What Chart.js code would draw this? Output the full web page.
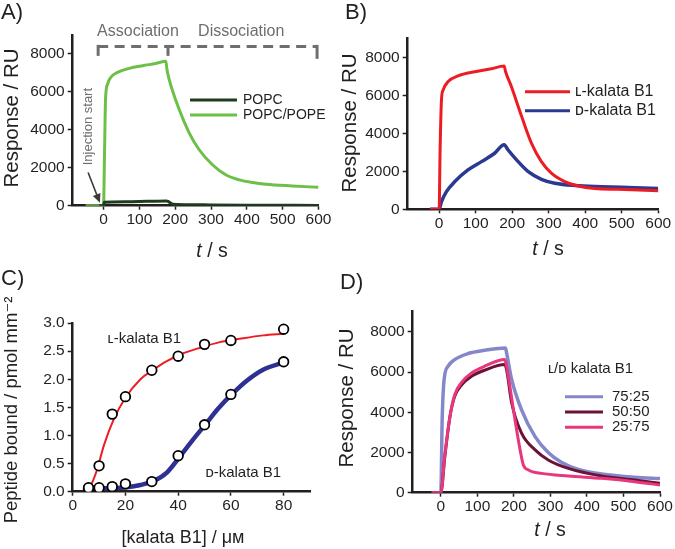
<!DOCTYPE html>
<html>
<head>
<meta charset="utf-8">
<script src="https://cdn.jsdelivr.net/npm/chart.js@4.4.1/dist/chart.umd.min.js"></script>
<style>
  body { margin: 0; background: #fff; }
  #wrap { position: relative; width: 675px; height: 549px; }
  canvas { position: absolute; }
</style>
</head>
<body>
<div id="wrap">
  <canvas id="chartA" width="337" height="270" style="left:0;top:0"></canvas>
  <canvas id="chartB" width="338" height="270" style="left:337px;top:0"></canvas>
  <canvas id="chartC" width="337" height="279" style="left:0;top:270px"></canvas>
  <canvas id="chartD" width="338" height="279" style="left:337px;top:270px"></canvas>
</div>
<script>
// tick labels
const timeTicks = [0, 100, 200, 300, 400, 500, 600];
const respTicks = [0, 2000, 4000, 6000, 8000];
const concTicks = [0, 20, 40, 60, 80];
const boundTicks = [0, 0.5, 1, 1.5, 2, 2.5, 3];

// ---- panel A: POPC vs POPC/POPE ----
const popcTime = [-12, 0, 2, 60, 120, 176, 180, 194, 250, 300, 400, 600];
const popcResp = [0, 0, 180, 210, 230, 250, 230, 75, 50, 40, 25, 15];
const popeTime = [-50, 0, 3, 5.6, 11, 20, 39, 72, 109, 146, 174, 177, 183, 211, 239, 267, 304, 341, 379, 416, 453, 527, 600];
const popeResp = [0, 0, 2950, 5600, 6400, 6760, 7030, 7240, 7380, 7500, 7610, 7200, 6670, 5080, 3840, 2950, 2160, 1630, 1360, 1220, 1130, 1040, 970];
const phaseEdges = [-15, 180, 596];
const phaseNames = ['Association', 'Dissociation'];
const phaseNameAt = [-18, 264];

// ---- panel B: L- vs D-kalata B1 ----
const lTime = [-25, 0, 2.7, 6.4, 11, 24.7, 52, 98, 143, 178, 182, 198, 226, 253, 280, 308, 344, 381, 426, 490, 600];
const lResp = [0, 0, 3120, 5750, 6280, 6720, 7020, 7240, 7400, 7540, 7240, 6450, 4880, 3470, 2510, 1890, 1460, 1230, 1100, 1050, 980];
const dTime = [-25, 0, 6.4, 20, 43, 79, 116, 152, 178, 189, 212, 244, 280, 317, 372, 445, 536, 600];
const dResp = [0, 0, 400, 930, 1460, 2070, 2510, 2950, 3400, 3120, 2600, 1980, 1580, 1370, 1250, 1190, 1140, 1100];

// ---- panel C: binding isotherms ----
const conc = [6, 10, 15, 20, 30, 40, 50, 60, 80];
const boundL = [0.07, 0.46, 1.38, 1.69, 2.16, 2.41, 2.62, 2.69, 2.89];
const boundD = [0.05, 0.07, 0.09, 0.14, 0.18, 0.64, 1.19, 1.73, 2.31];
const fitLConc = [6.2, 9.3, 11.8, 15.6, 20, 25.7, 30.7, 35.7, 40.8, 48.3, 55.8, 63.4, 72.2, 80];
const fitL = [0.02, 0.40, 0.82, 1.29, 1.67, 2.0, 2.17, 2.32, 2.44, 2.56, 2.66, 2.72, 2.78, 2.81];
const fitDConc = [4.9, 10.6, 20.6, 25.7, 30.7, 35.7, 40.4, 45.2, 50.4, 55.2, 60.3, 65.9, 72.2, 80];
const fitD = [0.06, 0.06, 0.08, 0.12, 0.19, 0.34, 0.61, 0.9, 1.2, 1.48, 1.73, 1.97, 2.17, 2.3];

// ---- panel D: L/D mixtures ----
const mixLabels = ['75:25', '50:50', '25:75'];
const mix75Time = [-25, 0, 3.7, 9, 20, 38, 75, 120, 177, 180, 194, 221, 258, 294, 331, 376, 440, 531, 600];
const mix75Resp = [0, 0, 3630, 5620, 6290, 6620, 6920, 7080, 7200, 6950, 5620, 4120, 2790, 2000, 1500, 1160, 930, 765, 700];
const mix50Time = [-25, 0, 11, 25, 38, 57, 84, 120, 175, 180, 194, 221, 258, 294, 349, 440, 531, 600];
const mix50Resp = [0, 0, 1800, 3790, 4790, 5370, 5790, 6090, 6370, 6120, 4460, 2960, 2130, 1630, 1210, 830, 630, 470];
const mix25Time = [-25, 0, 11, 25, 38, 57, 84, 120, 175, 180, 189, 203, 217, 226, 240, 276, 349, 440, 531, 600];
const mix25Resp = [0, 0, 1880, 3790, 4870, 5490, 5950, 6290, 6620, 6290, 5290, 3630, 2130, 1380, 1130, 960, 830, 715, 550, 380];

const FONT = "'Liberation Sans', 'DejaVu Sans', Arial, sans-serif";
const INK = '#231f20';

let pairs = function (xs, ys) {
    return xs.map(function (x, i) { return {x: x, y: ys[i]}; });
};

let curve = function (label, xs, ys, color, width, order) {
    return {
        label: label,
        data: pairs(xs, ys),
        borderColor: color,
        borderWidth: width,
        pointRadius: 0,
        fill: false,
        cubicInterpolationMode: 'monotone',
        order: order || 0
    };
};

let axis = function (min, max, tickValues, horizontal, digits) {
    return {
        type: 'linear',
        min: min,
        max: max,
        ticks: {
            autoSkip: false,
            maxRotation: 0,
            padding: horizontal ? 1 : 3,
            color: INK,
            font: {family: FONT, size: 15.5},
            callback: function (v) { return digits ? v.toFixed(digits) : String(v); }
        },
        grid: {drawOnChartArea: false, tickLength: horizontal ? 4 : 5, tickColor: INK, tickWidth: 1.5},
        border: {color: INK, width: 2.5},
        afterBuildTicks: function (scale) {
            scale.ticks = tickValues.map(function (v) { return {value: v}; });
        }
    };
};

// text items, either in canvas pixels or in data units (data: true)
let panelText = {
    id: 'panelText',
    afterDraw: function (chart, args, opts) {
        let ctx = chart.ctx;
        (opts.items || []).forEach(function (item) {
            let x = item.x, y = item.y;
            if (item.data) {
                x = chart.scales.x.getPixelForValue(item.x);
                y = chart.scales.y.getPixelForValue(item.y);
            }
            let parts = item.parts || [{text: item.text}];
            ctx.save();
            ctx.translate(x, y);
            if (item.rotate) ctx.rotate(item.rotate * Math.PI / 180);
            ctx.fillStyle = item.color || INK;
            ctx.textBaseline = 'middle';
            ctx.textAlign = 'left';
            let fonts = parts.map(function (p) { return (p.italic ? 'italic ' : '') + (item.size || 15) + 'px ' + FONT; });
            let total = 0;
            parts.forEach(function (p, i) { ctx.font = fonts[i]; total += ctx.measureText(p.text).width; });
            let cx = item.align === 'left' ? 0 : -total / 2;
            parts.forEach(function (p, i) {
                ctx.font = fonts[i];
                ctx.fillText(p.text, cx, 0);
                cx += ctx.measureText(p.text).width;
            });
            ctx.restore();
        });
    }
};

let lineLegend = {
    id: 'lineLegend',
    afterDraw: function (chart, args, opts) {
        if (!opts.x) return;
        let ctx = chart.ctx;
        let rows = chart.data.datasets.filter(function (d) { return d.label; });
        ctx.save();
        rows.forEach(function (ds, i) {
            let y = opts.y + i * opts.gap;
            ctx.strokeStyle = ds.borderColor;
            ctx.lineWidth = opts.lineWidth || 3;
            ctx.beginPath();
            ctx.moveTo(opts.x, y);
            ctx.lineTo(opts.x + opts.length, y);
            ctx.stroke();
            ctx.fillStyle = INK;
            ctx.font = opts.size + 'px ' + FONT;
            ctx.textBaseline = 'middle';
            ctx.fillText(ds.label, opts.x + opts.length + opts.space, y);
        });
        ctx.restore();
    }
};

// dashed association / dissociation bracket and the injection arrow of panel A
let phaseBracket = {
    id: 'phaseBracket',
    afterDraw: function (chart, args, opts) {
        if (!opts.edges) return;
        let ctx = chart.ctx;
        let px = function (v) { return chart.scales.x.getPixelForValue(v); };
        let py = function (v) { return chart.scales.y.getPixelForValue(v); };
        let top = py(opts.top), foot = py(opts.foot);
        ctx.save();
        ctx.strokeStyle = '#6d6e71';
        ctx.lineWidth = 3;
        ctx.setLineDash([10, 6.5]);
        ctx.beginPath();
        ctx.moveTo(px(opts.edges[0]), top);
        ctx.lineTo(px(opts.edges[opts.edges.length - 1]), top);
        ctx.stroke();
        ctx.setLineDash([]);
        opts.edges.forEach(function (e, i) {
            ctx.beginPath();
            ctx.moveTo(px(e), top - 1.5);
            ctx.lineTo(px(e), foot + (i === opts.edges.length - 1 ? 3 : 0));
            ctx.stroke();
        });
        // arrow
        let x0 = px(opts.arrow[0]), y0 = py(opts.arrow[1]);
        let x1 = px(opts.arrow[2]), y1 = py(opts.arrow[3]);
        let a = Math.atan2(y1 - y0, x1 - x0);
        ctx.strokeStyle = '#3a3a3a';
        ctx.fillStyle = '#3a3a3a';
        ctx.lineWidth = 1.6;
        ctx.beginPath();
        ctx.moveTo(x0, y0);
        ctx.lineTo(x1 - 6 * Math.cos(a), y1 - 6 * Math.sin(a));
        ctx.stroke();
        ctx.beginPath();
        ctx.moveTo(x1, y1);
        ctx.lineTo(x1 - 9 * Math.cos(a) + 4 * Math.sin(a), y1 - 9 * Math.sin(a) - 4 * Math.cos(a));
        ctx.lineTo(x1 - 9 * Math.cos(a) - 4 * Math.sin(a), y1 - 9 * Math.sin(a) + 4 * Math.cos(a));
        ctx.closePath();
        ctx.fill();
        ctx.restore();
    }
};

// area = [left, top, right, bottom] of the plot frame inside the canvas
let makeChart = function (id, datasets, area, scales, plugs) {
    let canvas = document.getElementById(id);
    let w = canvas.width, h = canvas.height;
    scales.x.afterFit = function (s) { s.height = h - area[3]; };
    scales.y.afterFit = function (s) { s.width = area[0]; };
    return new Chart(canvas.getContext('2d'), {
        type: 'line',
        data: {datasets: datasets},
        options: {
            responsive: false,
            animation: false,
            layout: {padding: {left: 0, top: area[1], right: w - area[2], bottom: 0}},
            scales: scales,
            plugins: Object.assign({legend: {display: false}, tooltip: {enabled: false}}, plugs)
        },
        plugins: [panelText, lineLegend, phaseBracket]
    });
};

let tTitle = function (x, y) {
    return {x: x, y: y, size: 19.5, parts: [{text: 't', italic: true}, {text: ' / s'}]};
};

let respTitle = function (x, y) {
    return {x: x, y: y, size: 20.5, rotate: -90, text: 'Response / RU'};
};

window.chartA = makeChart('chartA', [
    curve('POPC', popcTime, popcResp, '#1e3d1c', 3),
    curve('POPC/POPE', popeTime, popeResp, '#6cbf47', 3)
], [72.7, 35, 318.5, 205.7], {
    x: axis(-86, 600, timeTicks, true),
    y: axis(0, 9000, respTicks, false)
}, {
    lineLegend: {x: 190, y: 100, gap: 15, length: 47, space: 6, size: 14},
    phaseBracket: {edges: phaseEdges, top: 8400, foot: 7900, arrow: [-43, 1750, -10, 150]},
    panelText: {items: [
        {x: 1, y: 13, size: 22, text: 'A)', align: 'left'},
        respTitle(12, 118),
        tTitle(212, 252),
        {data: true, x: phaseNameAt[0], y: 9180, size: 16, color: '#6d6e71', align: 'left', text: phaseNames[0]},
        {data: true, x: phaseNameAt[1], y: 9180, size: 16, color: '#6d6e71', align: 'left', text: phaseNames[1]},
        {data: true, x: -43, y: 4170, size: 13, color: '#6d6e71', rotate: -90, text: 'Injection start'}
    ]}
});

window.chartB = makeChart('chartB', [
    curve('ʟ-kalata B1', lTime, lResp, '#ed1c24', 3),
    curve('ᴅ-kalata B1', dTime, dResp, '#2b3990', 3.5)
], [70.7, 38.3, 321.3, 209.3], {
    x: axis(-86, 600, timeTicks, true),
    y: axis(0, 9000, respTicks, false)
}, {
    lineLegend: {x: 188, y: 91.7, gap: 19, length: 45, space: 5, size: 16},
    panelText: {items: [
        {x: 8, y: 13, size: 22, text: 'B)', align: 'left'},
        respTitle(13, 123),
        tTitle(211, 250)
    ]}
});

let dots = function (xs, ys) {
    return {
        data: pairs(xs, ys),
        showLine: false,
        pointRadius: 4.8,
        pointBackgroundColor: '#fff',
        pointBorderColor: '#000',
        pointBorderWidth: 1.8,
        order: -1
    };
};

window.chartC = makeChart('chartC', [
    dots(conc, boundL),
    dots(conc, boundD),
    curve(undefined, fitLConc, fitL, '#ed1c24', 2, 1),
    curve(undefined, fitDConc, fitD, '#2e3192', 4.5, 1)
], [72.7, 53, 310, 221.7], {
    x: axis(0, 90, concTicks, true),
    y: axis(0, 3, boundTicks, false, 1)
}, {
    panelText: {items: [
        {x: 1, y: 9, size: 22, text: 'C)', align: 'left'},
        {x: 12, y: 140, size: 18.5, rotate: -90, text: 'Peptide bound / pmol mm⁻²'},
        {x: 183, y: 268, size: 18, text: '[kalata B1] / μᴍ'},
        {data: true, x: 27.2, y: 2.72, size: 15, text: 'ʟ-kalata B1'},
        {data: true, x: 64.7, y: 0.33, size: 15, text: 'ᴅ-kalata B1'}
    ]}
});

window.chartD = makeChart('chartD', [
    curve(mixLabels[0], mix75Time, mix75Resp, '#8487c9', 3.5, 2),
    curve(mixLabels[1], mix50Time, mix50Resp, '#6b1237', 3, 1),
    curve(mixLabels[2], mix25Time, mix25Resp, '#e8377c', 3, 0)
], [75.7, 41.7, 323, 222.7], {
    x: axis(-77, 600, timeTicks, true),
    y: axis(0, 9000, respTicks, false)
}, {
    lineLegend: {x: 228, y: 126.7, gap: 15.3, length: 38, space: 9, size: 15},
    panelText: {items: [
        {x: 3, y: 13, size: 22, text: 'D)', align: 'left'},
        respTitle(10, 128),
        tTitle(213, 261),
        {x: 211, y: 99, size: 15, align: 'left', text: 'ʟ/ᴅ kalata B1'}
    ]}
});
</script>
</body>
</html>
